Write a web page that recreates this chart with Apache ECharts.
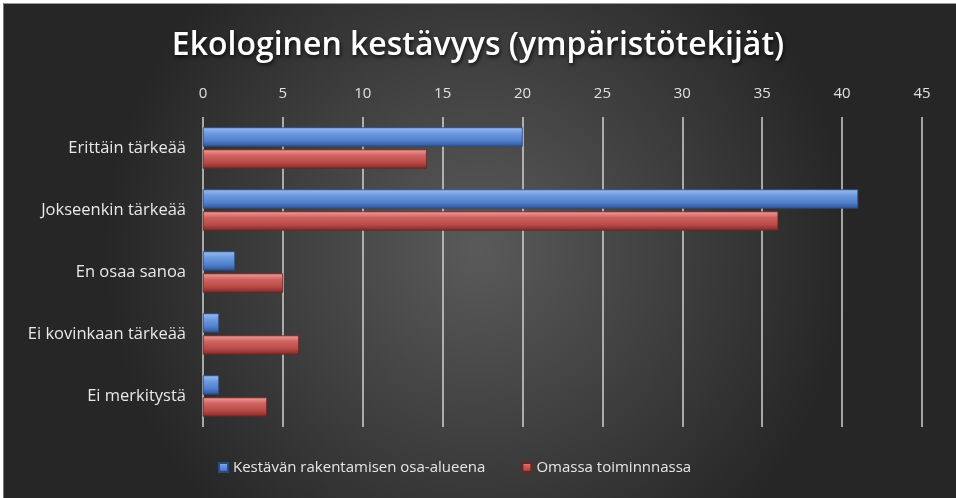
<!DOCTYPE html>
<html><head><meta charset="utf-8">
<script src="https://cdn.jsdelivr.net/npm/echarts@6/dist/echarts.min.js"></script>
<style>html,body{margin:0;padding:0;background:#fff;}#c{width:956px;height:498px;}</style>
</head><body><div id="c"></div>
<script>
const categories = ["Erittäin tärkeää","Jokseenkin tärkeää","En osaa sanoa","Ei kovinkaan tärkeää","Ei merkitystä"];
const seriesNames = ["Kestävän rakentamisen osa-alueena","Omassa toiminnnassa"];
const blueValues = [20,41,2,1,1];
const redValues = [14,36,5,6,4];
const xTicks = [0,5,10,15,20,25,30,35,40,45];

const font = "'Open Sans', 'Noto Sans', sans-serif";
function grad(c1,c2,c3,c4){
  return new echarts.graphic.LinearGradient(0,0,0,1,[
    {offset:0,color:c1},{offset:0.3,color:c2},{offset:0.7,color:c3},{offset:1,color:c4}]);
}
const chart = echarts.init(document.getElementById('c'));
chart.setOption({
  backgroundColor: new echarts.graphic.RadialGradient(0.5,0.5,0.75,[
    {offset:0,color:'#5a5a5a'},{offset:1,color:'#262626'}]),
  graphic:[
    {type:'rect',left:0,top:0,shape:{width:956,height:3},style:{fill:'#ffffff'},silent:true},
    {type:'rect',left:0,top:3,shape:{width:956,height:1},style:{fill:'#9a9a9a'},silent:true},
    {type:'rect',left:0,top:0,shape:{width:3,height:498},style:{fill:'#ffffff'},silent:true},
    {type:'rect',left:3,top:3,shape:{width:1,height:495},style:{fill:'#777777'},silent:true}
  ],
  title:{text:'Ekologinen kestävyys (ympäristötekijät)',left:'center',top:25,
    textStyle:{color:'#ffffff',fontSize:32,fontWeight:600,fontFamily:font,
      textShadowColor:'rgba(0,0,0,0.8)',textShadowBlur:4,textShadowOffsetX:1,textShadowOffsetY:2}},
  legend:{bottom:18,left:213,itemWidth:9,itemHeight:9,itemGap:36,icon:'rect',
    textStyle:{color:'#e6e6e6',fontSize:15,fontFamily:font},
    data:seriesNames},
  grid:{left:203,right:34,top:117,bottom:71},
  xAxis:{type:'value',position:'top',min:0,max:45,interval:5,
    axisLine:{show:false},axisTick:{show:false},
    axisLabel:{color:'#e0e0e0',fontSize:15,fontFamily:font,margin:16,
      formatter:v=>xTicks.includes(v)?String(v):''},
    splitLine:{show:true,lineStyle:{color:'#d0d0d0',width:1.5}}},
  yAxis:{type:'category',inverse:true,data:categories,
    axisLine:{show:false},axisTick:{show:false},
    axisLabel:{color:'#e8e8e8',fontSize:16.5,fontFamily:font,margin:17}},
  series:[
    {name:seriesNames[0],type:'bar',data:blueValues,barWidth:19,barGap:'16%',
      itemStyle:{color:grad('#9dbdf0','#6e9be0','#4f7fcc','#2f5596'),borderColor:'#2a4a80',borderWidth:0.5}},
    {name:seriesNames[1],type:'bar',data:redValues,barWidth:19,
      itemStyle:{color:grad('#f0a09e','#d06460','#b84a47','#7f2a28'),borderColor:'#6a2422',borderWidth:0.5}}
  ]
});
</script></body></html>
